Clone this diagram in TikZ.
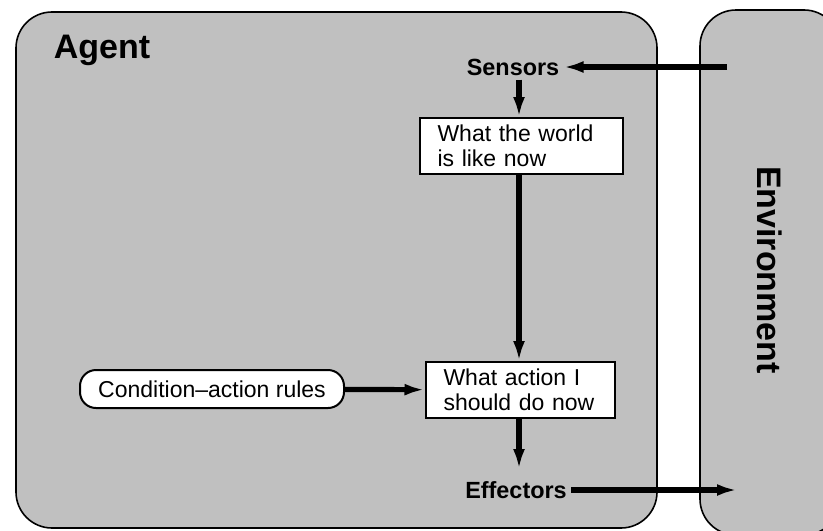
\documentclass[tikz,border=0pt]{standalone}
\usepackage{fontspec}
\setmainfont{Liberation Sans}
\usetikzlibrary{arrows.meta}

\definecolor{panelgray}{RGB}{192,192,192}

\begin{document}
\begin{tikzpicture}[x=0.5pt, y=-0.5pt,
  panel/.style={draw, line width=0.8pt, fill=panelgray, rounded corners=18pt},
  statebox/.style={draw, line width=1pt, fill=white, align=left, inner xsep=9pt, minimum height=28pt, font=\fontsize{11.5}{12.5}\selectfont},
  rulebox/.style={draw, line width=1pt, fill=white, rounded corners=8pt, minimum width=132pt, minimum height=19pt, font=\fontsize{11.5}{13}\selectfont},
  port/.style={font=\bfseries\fontsize{11.7}{14}\selectfont, inner sep=2pt},
  title/.style={font=\bfseries\fontsize{17}{20}\selectfont},
  flow/.style={-{Latex[length=10pt,width=6pt]}, line width=2.6pt}]
\useasboundingbox (0,0) rectangle (823,530);
\clip (0,0) rectangle (823,530);

% Panels
\draw[panel] (16,12) rectangle (657,528);
\draw[panel] (700,10) rectangle (840,535);
\node[title] (agent) at (102,50) {Agent};
\node[title, rotate=-90] (env) at (770,270) {Environment};

% Agent internals
\node[port] (sensors) at (513,67) {Sensors};
\node[statebox, text width=83.5pt] (world) at (521,146) {What the world\\is like now};
\node[statebox, text width=76.5pt] (action) at (520,390) {What action I\\should do now};
\node[rulebox] (rules) at (212,389) {Condition--action rules};
\node[port] (effectors) at (516,490) {Effectors};

% Ends in the environment
\coordinate (percept) at (727,67);
\coordinate (act) at (737,490);

% Arrows
\draw[flow] (percept) -- (sensors.east);
\draw[flow] (sensors.south -| 519,0) -- (world.north -| 519,0);
\draw[flow] (world.south -| 519,0) -- (action.north -| 519,0);
\draw[flow] (rules) -- (action);
\draw[flow, shorten >=4pt] (action.south -| 519,0) -- (effectors.north -| 519,0);
\draw[flow] (effectors.east) -- (act);
\end{tikzpicture}
\end{document}
